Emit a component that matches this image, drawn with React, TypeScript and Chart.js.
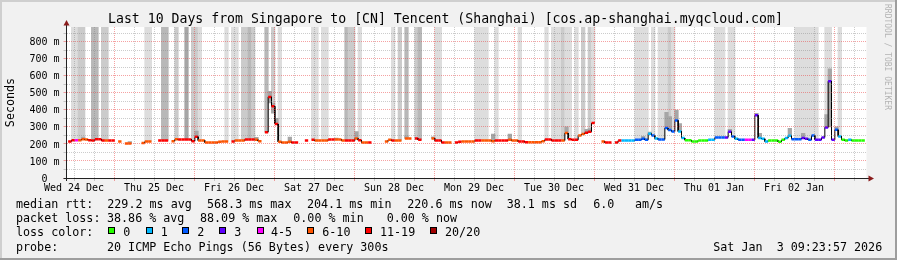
import React, { useEffect, useRef } from 'react';
import { Chart, registerables } from 'chart.js';

Chart.register(...registerables);

const FONT = '"DejaVu Sans Mono", monospace';

// ---- time axis: hours after Wed 24 Dec 00:00 ----
const X_MIN = 9.75;
const X_MAX = 249.75;
const SLOT0_HOUR = 8.25; // start hour of hourly slot 0
const Y_MAX = 886;

const DAY_LABELS = [
  'Wed 24 Dec', 'Thu 25 Dec', 'Fri 26 Dec', 'Sat 27 Dec', 'Sun 28 Dec',
  'Mon 29 Dec', 'Tue 30 Dec', 'Wed 31 Dec', 'Thu 01 Jan', 'Fri 02 Jan',
];
const Y_TICK_VALUES = [0, 50, 100, 150, 200, 250, 300, 350, 400, 450, 500, 550, 600, 650, 700, 750, 800, 850];

// ---- median RTT per hourly slot (ms), null = no data ----
const MEDIAN_MS: (number | null)[] = [
  null, null, 214, 222, 222, 222, 228, 226, 222, 220,
  228, 228, 220, 220, 220, 220, null, 214, null, 203,
  203, null, null, null, 206, 214, 214, null, null, 220,
  220, 220, null, 216, 228, 226, 226, 226, 226, 216,
  242, 220, 220, 208, 208, 208, 208, 212, 214, 214,
  null, 214, 220, 220, 220, 226, 226, 226, 224, 216,
  null, 269, 476, 421, 317, 212, 208, 208, 212, 208,
  208, null, null, 220, null, 224, 220, 220, 220, 220,
  226, 226, 226, 226, 220, 220, 220, 220, 232, 222,
  208, 208, 208, null, null, null, null, 214, 224, 220,
  220, 220, null, 232, 232, null, 232, 224, null, null,
  null, 232, 220, 220, 208, 208, 208, null, 208, 212,
  214, 214, 214, 214, 220, 220, 220, 220, 220, 216,
  220, 220, 220, 220, 224, 220, 220, 214, 214, 210,
  210, 210, 210, 210, 216, 226, 226, 220, 220, 220,
  220, 264, 228, 224, 224, 250, 258, 266, 272, 323,
  null, null, 214, 208, 208, null, 208, 220, 220, 220,
  220, 220, 224, 224, 230, 224, 260, 250, 232, 226,
  226, 293, 281, 273, 338, 273, 234, 222, 222, 214,
  214, 220, 220, 220, 224, 224, 238, 238, 238, 238,
  271, 244, 230, 224, 224, 224, 224, 224, 368, 234,
  230, 214, 220, 220, 220, 212, 224, 234, 248, 228,
  228, 228, 234, 230, 224, 250, 224, 224, 238, 297,
  568, 224, 283, 244, 224, 220, 224, 220, 220, 220,
  220, null,
];

// ---- loss colour index per slot (0:"0" 1:"1" 2:"2" 3:"3" 4:"4-5" 5:"6-10" 6:"11-19" 7:"20/20") ----
const LOSS_CODE: (number | null)[] = [
  null, null, 6, 6, 4, 5, 5, 5, 6, 6,
  6, 6, 6, 5, 6, 6, null, 5, null, 5,
  5, null, null, null, 5, 5, 5, null, null, 6,
  6, 6, null, 5, 5, 6, 6, 6, 6, 6,
  6, 5, 5, 5, 5, 5, 5, 5, 5, 5,
  null, 6, 5, 5, 5, 6, 6, 6, 5, 5,
  null, 6, 6, 6, 6, 5, 5, 5, 5, 6,
  6, null, null, 6, null, 6, 5, 5, 5, 5,
  6, 6, 5, 5, 5, 6, 6, 6, 5, 6,
  5, 5, 6, null, null, null, null, 5, 5, 6,
  5, 5, null, 5, 5, null, 6, 6, null, null,
  null, 5, 6, 6, 6, 5, 5, null, 6, 6,
  5, 5, 5, 5, 6, 6, 5, 5, 5, 5,
  6, 6, 6, 6, 5, 5, 5, 6, 6, 6,
  5, 5, 5, 5, 5, 6, 6, 6, 6, 6,
  5, 5, 6, 6, 6, 5, 5, 6, 6, 6,
  null, null, 5, 6, 6, null, 6, 6, 1, 1,
  1, 1, 2, 2, 2, 2, 1, 2, 1, 2,
  2, 2, 2, 2, 2, 1, 1, 0, 0, 0,
  0, 0, 0, 0, 1, 1, 2, 2, 2, 3,
  3, 2, 1, 2, 2, 4, 4, 3, 3, 1,
  1, 1, 0, 0, 0, 0, 0, 1, 1, 2,
  2, 2, 3, 3, 2, 2, 3, 3, 3, 3,
  3, 3, 2, 1, 0, 0, 1, 0, 0, 0,
  0, null,
];

const LOSS_COLORS = ['#26ff00', '#00b8ff', '#0059ff', '#5e00ff', '#ff00ff', '#ff5500', '#ff0000', '#a00000'];
const LOSS_LABELS = ['0', '1', '2', '3', '4-5', '6-10', '11-19', '20/20'];

// ---- tall smoke columns: [first slot, last slot, shade] ----
const HIGH_SMOKE_RUNS: [number, number, number][] = [
  [3, 4, 1], [5, 6, 2], [9, 10, 3], [12, 13, 2], [25, 26, 1], [30, 31, 3], [34, 34, 2], [37, 37, 4],
  [39, 40, 2], [41, 41, 1], [49, 49, 1], [51, 52, 1], [54, 55, 2], [56, 56, 3], [57, 57, 2], [61, 61, 3],
  [63, 63, 2], [65, 65, 1], [75, 76, 1], [78, 79, 1], [85, 85, 3], [86, 87, 2], [89, 89, 1], [99, 99, 1],
  [101, 101, 2], [103, 103, 3], [106, 106, 2], [107, 107, 3], [112, 113, 1], [124, 127, 1], [130, 130, 1],
  [137, 137, 1], [145, 145, 1], [147, 149, 1], [150, 150, 2], [151, 152, 1], [154, 154, 1], [156, 156, 2],
  [158, 158, 2], [159, 159, 1], [172, 175, 1], [177, 177, 1], [179, 181, 1], [182, 182, 2], [183, 183, 1],
  [196, 198, 1], [200, 201, 1], [220, 226, 1], [229, 230, 1], [233, 233, 1],
];
const SHADES = ['#ffffff', '#dddddd', '#cbcbcb', '#b8b8b8', '#a6a6a6'];

// ---- small smoke near the median: [slot, low ms, high ms] ----
const SMOKE: [number, number, number][] = [
  [6, 228, 240], [20, 203, 214], [40, 242, 275], [58, 224, 238], [62, 440, 508], [63, 380, 440],
  [64, 317, 350], [68, 212, 240], [82, 226, 234], [88, 232, 272], [103, 232, 248], [111, 232, 242],
  [129, 216, 258], [134, 224, 258], [151, 264, 300], [157, 266, 285], [158, 272, 290], [174, 230, 245],
  [176, 260, 270], [181, 293, 385], [182, 281, 360], [184, 338, 398], [185, 273, 320], [200, 271, 285],
  [208, 368, 380], [209, 234, 262], [218, 248, 292], [222, 234, 262], [229, 297, 372], [230, 300, 640],
  [232, 283, 300],
];

// ---- texts ----
const TITLE = 'Last 10 Days from Singapore to [CN] Tencent (Shanghai) [cos.ap-shanghai.myqcloud.com]';
const RTT_LABEL = 'median rtt:';
const RTT_STATS = ['229.2 ms avg', '568.3 ms max', '204.1 ms min', '220.6 ms now', '38.1 ms sd', '6.0', 'am/s'];
const LOSS_LABEL = 'packet loss:';
const LOSS_STATS = ['38.86 % avg', '88.09 % max', '0.00 % min', '0.00 % now'];
const COLOR_LABEL = 'loss color:';
const PROBE_LABEL = 'probe:';
const PROBE_TEXT = '20 ICMP Echo Pings (56 Bytes) every 300s';
const STAMP = 'Sat Jan  3 09:23:57 2026';
const WATERMARK = 'RRDTOOL / TOBI OETIKER';

// ---- layout (pixel positions of legend items) ----
const RTT_X = [107.3, 207, 307, 407.3, 506.7, 593.3, 635];
const LOSS_X = [107, 200, 293.3, 386.7];
const BOX_X = [108.3, 145.7, 182.3, 219.3, 256.7, 307.3, 365, 430];
const BOX_TEXT_X = [123.3, 160.7, 197.3, 234.3, 271, 322.3, 380, 445];
const LEG_F = 11.7;
const LINE_BASE = [208.6, 222.9, 236.6, 251.5];

const MAJOR = 'rgba(235,60,60,0.48)';
const MINOR = 'rgba(128,128,128,0.4)';

function buildLine() {
  const pts: { x: number; y: number | null }[] = [];
  const codes: (number | null)[] = [];
  MEDIAN_MS.forEach((v, k) => {
    if (v == null) {
      pts.push({ x: SLOT0_HOUR + k + 0.5, y: null });
      codes.push(null);
      return;
    }
    pts.push({ x: SLOT0_HOUR + k, y: v }, { x: SLOT0_HOUR + k + 1, y: v });
    codes.push(LOSS_CODE[k], LOSS_CODE[k]);
  });
  return { pts, codes };
}

function buildHigh() {
  const pts: { x: number; y: [number, number] }[] = [];
  const colors: string[] = [];
  HIGH_SMOKE_RUNS.forEach(([a, b, s]) => {
    for (let k = a; k <= b; k++) {
      const base = MEDIAN_MS[k] ?? 225;
      pts.push({ x: SLOT0_HOUR + k + 0.5, y: [base, Y_MAX] });
      colors.push(SHADES[s]);
    }
  });
  return { pts, colors };
}

const framePlugin = {
  id: 'rrdframe',
  beforeDraw(chart: any) {
    const { ctx, width, height, chartArea: a } = chart;
    ctx.save();
    ctx.fillStyle = '#f1f1f1';
    ctx.fillRect(0, 0, width, height);
    ctx.fillStyle = '#cfcfcf';
    ctx.fillRect(0, 0, width, 2);
    ctx.fillRect(0, 0, 2, height);
    ctx.fillStyle = '#9e9e9e';
    ctx.fillRect(0, height - 2, width, 2);
    ctx.fillRect(width - 2, 0, 2, height);
    ctx.fillStyle = '#ffffff';
    ctx.fillRect(a.left, a.top, a.right - a.left, a.bottom - a.top);
    ctx.restore();
  },
  afterDraw(chart: any) {
    const { ctx, chartArea: a } = chart;
    const ax = Math.round(a.left - 0.5) + 0.5;
    const ay = Math.round(a.bottom - 0.5) + 0.5;
    ctx.save();
    ctx.strokeStyle = '#222';
    ctx.lineWidth = 1;
    ctx.beginPath();
    ctx.moveTo(ax, a.top - 3);
    ctx.lineTo(ax, a.bottom + 3);
    ctx.moveTo(a.left - 3, ay);
    ctx.lineTo(a.right + 4, ay);
    ctx.stroke();
    ctx.fillStyle = '#8a1c1c';
    ctx.beginPath();
    ctx.moveTo(ax - 3, a.top - 1.5);
    ctx.lineTo(ax + 3, a.top - 1.5);
    ctx.lineTo(ax, a.top - 7);
    ctx.closePath();
    ctx.fill();
    ctx.beginPath();
    ctx.moveTo(a.right + 2, ay - 3);
    ctx.lineTo(a.right + 2, ay + 3);
    ctx.lineTo(a.right + 7.5, ay);
    ctx.closePath();
    ctx.fill();
    ctx.restore();
  },
};

function Txt(props: { x: number; base: number; size: number; color?: string; children: any }) {
  const { x, base, size, color = '#000', children } = props;
  return (
    <span
      style={{
        position: 'absolute',
        left: x,
        top: base - 0.846 * size,
        fontSize: size,
        lineHeight: `${size}px`,
        fontFamily: FONT,
        whiteSpace: 'pre',
        color,
      }}
    >
      {children}
    </span>
  );
}

export default function App() {
  const ref = useRef<HTMLCanvasElement>(null);

  useEffect(() => {
    document.body.style.margin = '0';
    const line = buildLine();
    const high = buildHigh();
    const smokePts = SMOKE.map(([k, lo, hi]) => ({ x: SLOT0_HOUR + k + 0.5, y: [lo, hi] }));
    const vertical = (c: any) => Math.abs(c.p0.x - c.p1.x) < 0.01;

    const chart = new Chart(ref.current as HTMLCanvasElement, {
      type: 'line',
      data: {
        datasets: [
          {
            type: 'line',
            data: line.pts as any,
            order: 0,
            borderColor: '#000',
            borderWidth: 2.5,
            borderCapStyle: 'butt',
            pointRadius: 0,
            spanGaps: false,
            fill: false,
            tension: 0,
            segment: {
              borderColor: (c: any) => (vertical(c) ? '#000' : LOSS_COLORS[line.codes[c.p0DataIndex] ?? 0]),
              borderWidth: (c: any) => (vertical(c) ? 1 : 2.5),
            },
          } as any,
          {
            type: 'bar',
            data: smokePts as any,
            order: 1,
            backgroundColor: '#a6a6a6',
            borderWidth: 0,
            barThickness: 3.6,
            grouped: false,
          } as any,
          {
            type: 'bar',
            data: high.pts as any,
            order: 2,
            backgroundColor: high.colors,
            borderWidth: 0,
            barThickness: 3.6,
            grouped: false,
          } as any,
        ],
      },
      options: {
        animation: false,
        responsive: false,
        devicePixelRatio: 1,
        events: [],
        layout: { padding: { left: 0, top: 27, right: 30.5, bottom: 62 } },
        plugins: { legend: { display: false }, title: { display: false }, tooltip: { enabled: false } },
        scales: {
          x: {
            type: 'linear',
            min: X_MIN,
            max: X_MAX,
            offset: false,
            afterFit: (s: any) => {
              s.height = 20;
            },
            afterBuildTicks: (s: any) => {
              const t = [];
              for (let h = 12; h < X_MAX; h += 6) t.push({ value: h });
              s.ticks = t;
            },
            grid: {
              color: (c: any) => (c.tick && c.tick.value % 24 === 0 ? MAJOR : MINOR),
              lineWidth: 1,
              z: 1,
              offset: false,
              drawTicks: true,
              tickLength: 3,
            },
            border: { display: true, color: '#222', width: 1, dash: [1, 1], z: 2 },
            ticks: {
              autoSkip: false,
              maxRotation: 0,
              minRotation: 0,
              padding: 1,
              color: '#000',
              font: { family: FONT, size: 10 },
              callback: (v: any) => {
                const n = Number(v);
                return (n - 12) % 24 === 0 ? DAY_LABELS[(n - 12) / 24] ?? '' : '';
              },
            },
          },
          y: {
            type: 'linear',
            min: 0,
            max: Y_MAX,
            afterFit: (s: any) => {
              s.width = 66.5;
            },
            afterBuildTicks: (s: any) => {
              s.ticks = Y_TICK_VALUES.map((v) => ({ value: v }));
            },
            grid: {
              color: (c: any) => (c.tick && c.tick.value % 100 === 0 ? MAJOR : MINOR),
              lineWidth: 1,
              z: 1,
              drawTicks: true,
              tickLength: 3,
            },
            border: { display: true, color: '#222', width: 1, dash: [1, 1], z: 2 },
            title: {
              display: true,
              text: 'Seconds',
              color: '#000',
              font: { family: FONT, size: 11.7 },
              padding: { top: 3.5, bottom: 0 },
            },
            ticks: {
              autoSkip: false,
              padding: 4,
              labelOffset: 1,
              color: '#000',
              font: { family: FONT, size: 10 },
              callback: (v: any) => {
                const n = Number(v);
                if (n % 100 !== 0) return '';
                return n === 0 ? '0  ' : `${n} m`;
              },
            },
          },
        },
      } as any,
      plugins: [framePlugin],
    });
    return () => chart.destroy();
  }, []);

  return (
    <div style={{ position: 'fixed', left: 0, top: 0, width: 897, height: 260, overflow: 'hidden' }}>
      <canvas ref={ref} width={897} height={260} style={{ position: 'absolute', left: 0, top: 0, width: 897, height: 260 }} />
      <Txt x={108} base={23} size={13.2}>{TITLE}</Txt>
      <span
        style={{
          position: 'absolute',
          left: 883,
          top: 4,
          fontSize: 8,
          lineHeight: '8px',
          fontFamily: FONT,
          whiteSpace: 'pre',
          writingMode: 'vertical-rl',
          color: '#b4b4b4',
        }}
      >
        {WATERMARK}
      </span>

      <Txt x={16} base={LINE_BASE[0]} size={LEG_F}>{RTT_LABEL}</Txt>
      {RTT_STATS.map((s, i) => (
        <Txt key={'r' + i} x={RTT_X[i]} base={LINE_BASE[0]} size={LEG_F}>{s}</Txt>
      ))}

      <Txt x={16} base={LINE_BASE[1]} size={LEG_F}>{LOSS_LABEL}</Txt>
      {LOSS_STATS.map((s, i) => (
        <Txt key={'l' + i} x={LOSS_X[i]} base={LINE_BASE[1]} size={LEG_F}>{s}</Txt>
      ))}

      <Txt x={16} base={LINE_BASE[2]} size={LEG_F}>{COLOR_LABEL}</Txt>
      {LOSS_LABELS.map((s, i) => (
        <React.Fragment key={'c' + i}>
          <div
            style={{
              position: 'absolute',
              left: BOX_X[i],
              top: 226.8,
              width: 7,
              height: 7,
              boxSizing: 'border-box',
              border: '1px solid #000',
              background: LOSS_COLORS[i],
            }}
          />
          <Txt x={BOX_TEXT_X[i]} base={LINE_BASE[2]} size={LEG_F}>{s}</Txt>
        </React.Fragment>
      ))}

      <Txt x={16} base={LINE_BASE[3]} size={LEG_F}>{PROBE_LABEL}</Txt>
      <Txt x={107} base={LINE_BASE[3]} size={LEG_F}>{PROBE_TEXT}</Txt>
      <Txt x={713.3} base={LINE_BASE[3]} size={LEG_F}>{STAMP}</Txt>
    </div>
  );
}
